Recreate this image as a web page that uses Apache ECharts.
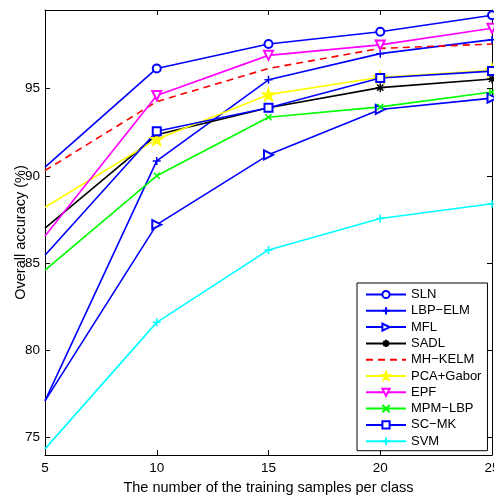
<!DOCTYPE html>
<html>
<head>
<meta charset="utf-8">
<script src="https://cdn.jsdelivr.net/npm/echarts@6/dist/echarts.min.js"></script>
<style>
  html, body { margin: 0; padding: 0; background: #fff; }
  #chart { width: 494px; height: 495px; }
</style>
</head>
<body>
<div id="chart"></div>
<script>
// Training samples per class
const samples = [5, 10, 15, 20, 25];

// Overall accuracy (%) of each method
const SLN      = [90.5, 96.15, 97.55, 98.25, 99.2];
const LBP_ELM  = [77.1, 90.85, 95.5, 97.0, 97.8];
const MFL      = [77.1, 87.2, 91.2, 93.8, 94.45];
const SADL     = [87.0, 92.35, 93.9, 95.05, 95.55];
const MH_KELM  = [90.3, 94.25, 96.15, 97.3, 97.55];
const PCA_GAB  = [88.2, 92.1, 94.65, 95.65, 96.05];
const EPF      = [86.55, 94.6, 96.9, 97.5, 98.45];
const MPM_LBP  = [84.6, 90.0, 93.35, 93.95, 94.8];
const SC_MK    = [85.45, 92.55, 93.9, 95.6, 96.0];
const SVM      = [74.35, 81.6, 85.75, 87.55, 88.4];

const yTicks = [75, 80, 85, 90, 95];
const xTicks = [5, 10, 15, 20, 25];

const FONT = "'Liberation Sans', Arial, Helvetica, sans-serif";

const PLUS = 'path://M0,5L10,5M5,0L5,10';
const CROSS = 'path://M0,0L10,10M10,0L0,10';
const ASTER = 'path://M5,0L5,10M0,5L10,5M1.5,1.5L8.5,8.5M8.5,1.5L1.5,8.5';
const STAR = 'path://M50,0L61.2,34.5L97.6,34.5L68.2,55.9L79.4,90.5L50,69.1L20.6,90.5L31.8,55.9L2.4,34.5L38.8,34.5Z';

// the first point sits on the left frame and carries no marker
function pairs(vals) {
  return samples.map((s, i) => i === 0 ? { value: [s, vals[i]], symbol: 'none' } : [s, vals[i]]);
}

function mk(name, vals, color, symbol, size, opts) {
  opts = opts || {};
  return {
    name: name,
    type: 'line',
    data: pairs(vals),
    symbol: symbol,
    symbolSize: size,
    symbolRotate: opts.rotate || 0,
    showAllSymbol: true,
    clip: false,
    lineStyle: { color: color, width: 1.6, type: opts.dashed ? [7, 5] : 'solid' },
    itemStyle: { color: color, borderColor: color, borderWidth: opts.bw || 1.5 },
    emphasis: { disabled: true },
    animation: false
  };
}

const series = [
  mk('SLN', SLN, '#0000ff', 'emptyCircle', 8),
  mk('LBP\u2212ELM', LBP_ELM, '#0000ff', PLUS, 8),
  mk('MFL', MFL, '#0000ff', 'emptyTriangle', 9, { rotate: -90 }),
  mk('SADL', SADL, '#000000', ASTER, 9, { bw: 1.4 }),
  mk('MH\u2212KELM', MH_KELM, '#ff0000', 'none', 0, { dashed: true }),
  mk('PCA+Gabor', PCA_GAB, '#ffff00', STAR, 12),
  mk('EPF', EPF, '#ff00ff', 'emptyTriangle', 9, { rotate: 180 }),
  mk('MPM\u2212LBP', MPM_LBP, '#00ff00', CROSS, 6),
  mk('SC\u2212MK', SC_MK, '#0000ff', 'emptyRect', 8),
  mk('SVM', SVM, '#00ffff', PLUS, 8)
];

const legendData = series.map(s => {
  if (s.symbol === 'none') {
    return { name: s.name, itemStyle: { color: 'transparent', borderColor: 'transparent' } };
  }
  return { name: s.name };
});

const axisLine = { show: true, lineStyle: { color: '#000', width: 1 } };
const tickStyle = { inside: true, length: 5, lineStyle: { color: '#000', width: 1 } };
const tickFont = { fontFamily: FONT, fontSize: 13.5, color: '#000' };
const titleFont = { fontFamily: FONT, fontSize: 14.5, color: '#000' };

const chart = echarts.init(document.getElementById('chart'), null, { renderer: 'canvas' });
chart.setOption({
  backgroundColor: '#fff',
  animation: false,
  grid: { left: 45, right: 2, top: 10, bottom: 40, show: false, containLabel: false, outerBoundsMode: 'none' },
  xAxis: [
    {
      type: 'value', min: 5, max: 25, position: 'bottom',
      name: 'The number of the training samples per class',
      nameLocation: 'middle', nameGap: 25, nameMoveOverlap: false,
      nameTextStyle: titleFont,
      axisLine: axisLine,
      axisTick: Object.assign({ customValues: xTicks }, tickStyle),
      axisLabel: Object.assign({ customValues: xTicks, margin: 6 }, tickFont),
      splitLine: { show: false }
    },
    {
      type: 'value', min: 5, max: 25, position: 'top',
      axisLine: axisLine,
      axisTick: Object.assign({ customValues: xTicks }, tickStyle),
      axisLabel: { show: false },
      splitLine: { show: false }
    }
  ],
  yAxis: [
    {
      type: 'value', min: 74, max: 99.5, position: 'left',
      name: 'Overall accuracy (%)',
      nameLocation: 'middle', nameGap: 17, nameMoveOverlap: false,
      nameTextStyle: titleFont,
      axisLine: axisLine,
      axisTick: Object.assign({ customValues: yTicks }, tickStyle),
      axisLabel: Object.assign({ customValues: yTicks, margin: 5 }, tickFont),
      splitLine: { show: false }
    },
    {
      type: 'value', min: 74, max: 99.5, position: 'right',
      axisLine: axisLine,
      axisTick: Object.assign({ customValues: yTicks }, tickStyle),
      axisLabel: { show: false },
      splitLine: { show: false }
    }
  ],
  legend: {
    orient: 'vertical',
    left: 357, top: 283,
    padding: [5, 6, 3, 8],
    itemWidth: 40, itemHeight: 9, itemGap: 3.3,
    backgroundColor: '#fff',
    borderColor: '#000', borderWidth: 1, borderRadius: 0,
    textStyle: { fontFamily: FONT, fontSize: 13, color: '#000' },
    selectedMode: false,
    data: legendData
  },
  series: series
});
</script>
</body>
</html>
